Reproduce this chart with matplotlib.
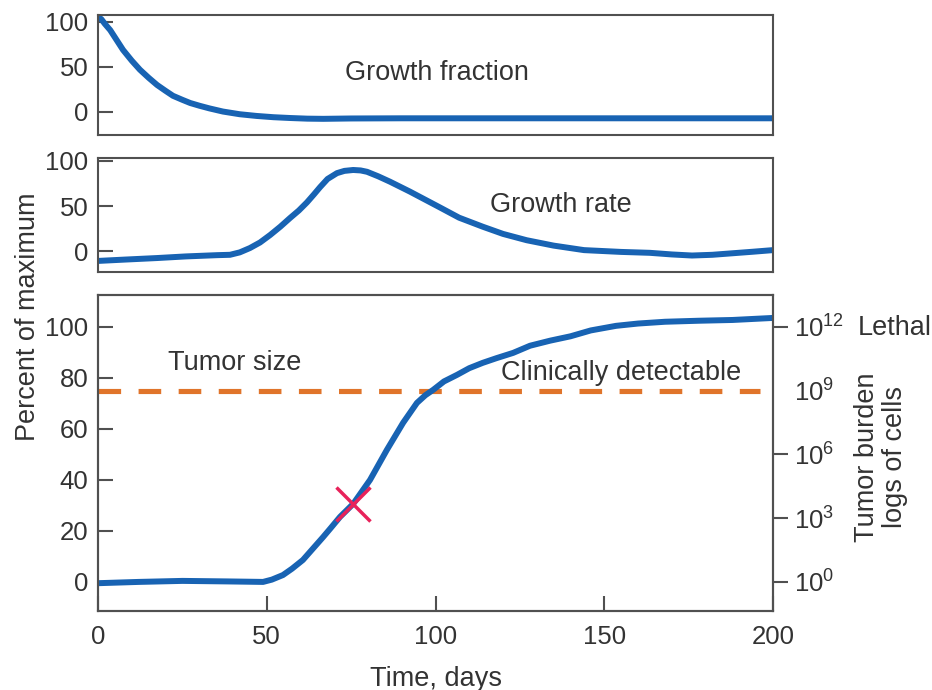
import matplotlib
matplotlib.use("Agg")
import matplotlib.pyplot as plt

plt.rcParams["font.family"] = ["Liberation Sans", "DejaVu Sans"]
plt.rcParams["mathtext.fontset"] = "custom"
plt.rcParams["mathtext.rm"] = "Liberation Sans"
plt.rcParams["mathtext.it"] = "Liberation Sans:italic"

# growth fraction (top panel)
frac_t = [0, 1, 2, 3.6, 5.5, 7.4, 10, 12.4, 15, 17.5, 20, 22.2, 25, 27.3, 30, 33, 37, 42, 47, 52, 57, 62, 66.7, 75, 90, 110, 140, 170, 200]
frac_v = [106, 103, 98, 91, 80, 69, 57, 47, 38, 30, 23.5, 18, 13.5, 10, 7, 4, 0.5, -2.5, -4.4, -5.8, -6.7, -7.4, -7.6, -7.2, -7, -7, -7, -7, -7]

# growth rate (middle panel)
rate_t = [0, 8, 17.5, 26, 35.3, 39.1, 42, 45, 48, 51, 54, 56.9, 59.5, 61.9, 64, 65.8, 68, 70.8, 73, 75.6, 77.8, 79.7, 83, 86.5, 92.4, 101, 107, 114, 120, 127, 135, 144, 155, 163.5, 170, 176, 182, 188, 194, 200]
rate_v = [-11, -9.5, -7.8, -6, -4.6, -4.2, -1.5, 3.3, 9.5, 17.8, 27, 36.7, 45, 54, 63, 71, 80, 86.5, 89, 90, 89.5, 88, 83, 77, 66, 49, 37, 27, 19, 12, 6, 1, -1, -2, -3.8, -5, -4.2, -2.5, -0.8, 1]

# tumor size (bottom panel)
size_t = [0, 12, 25, 38, 48.9, 51.5, 54.8, 57.5, 60.7, 63.5, 66.7, 69, 71.7, 75.6, 80.6, 85.6, 90.4, 94.5, 97, 99.3, 102.5, 106.4, 110, 114, 118, 123, 128, 134, 140, 146, 153.5, 160, 168, 178, 188, 200]
size_v = [-0.5, 0, 0.4, 0.2, 0, 0.9, 2.7, 5.2, 8.6, 12.8, 17.6, 21.2, 25.5, 30.6, 40, 51.8, 62.4, 70.2, 73.2, 75.3, 78.6, 81.2, 83.8, 85.9, 87.7, 89.8, 92.6, 94.6, 96.3, 98.6, 100.4, 101.3, 102, 102.4, 102.7, 103.5]

detect_level = 75
detect_end = 196
marker_t, marker_v = 75.6, 30.6

burden_pos = [0, 25, 50, 75, 100]
burden_labels = ["$10^{0}$", "$10^{3}$", "$10^{6}$", "$10^{9}$", "$10^{12}$"]
time_ticks = [0, 50, 100, 150, 200]

blue = "#1863B3"
orange = "#E0742A"
red = "#E8225A"
grey = "#505050"
txt = "#333333"
fs = 19.5
tfs = 18.5
lw_blue = 4.3

fig = plt.figure(figsize=(9.32, 6.9), dpi=100)
ax1 = fig.add_axes([0.1052, 0.8043, 0.7242, 0.1740])
ax2 = fig.add_axes([0.1052, 0.6058, 0.7242, 0.1652])
ax3 = fig.add_axes([0.1052, 0.1145, 0.7242, 0.4580])

for ax in (ax1, ax2, ax3):
    for sp in ax.spines.values():
        sp.set_color(grey)
        sp.set_linewidth(1.5)
    ax.set_xlim(0, 200)
    ax.tick_params(axis="y", direction="in", length=11, width=1.5, color=grey,
                   labelsize=tfs, labelcolor=txt, pad=7)

ax1.plot(frac_t, frac_v, color=blue, lw=lw_blue, solid_capstyle="round", solid_joinstyle="round")
ax1.set_ylim(-25.6, 107.8)
ax1.set_yticks([0, 50, 100])
ax1.set_xticks([])
ax1.text(100.4, 43, "Growth fraction", fontsize=fs, color=txt, ha="center", va="center")

ax2.plot(rate_t, rate_v, color=blue, lw=lw_blue, solid_capstyle="round", solid_joinstyle="round")
ax2.set_ylim(-23.3, 103.3)
ax2.set_yticks([0, 50, 100])
ax2.set_xticks([])
ax2.text(137, 51, "Growth rate", fontsize=fs, color=txt, ha="center", va="center")

ax3.plot([0, detect_end], [detect_level, detect_level], color=orange, lw=3.7,
         dashes=(4.4, 3.4), dash_capstyle="butt")
ax3.plot(size_t, size_v, color=blue, lw=lw_blue, solid_capstyle="round", solid_joinstyle="round")
ax3.plot([marker_t], [marker_v], marker="x", color=red, markersize=24, mew=2.5)
ax3.set_ylim(-11.4, 112.5)
ax3.set_yticks([0, 20, 40, 60, 80, 100])
ax3.set_xticks(time_ticks)
ax3.tick_params(axis="x", direction="in", length=11, width=1.5, color=grey,
                labelsize=tfs, labelcolor=txt, pad=10)
ax3.set_xlabel("Time, days", fontsize=fs, color=txt, labelpad=12)
ax3.text(40.6, 86, "Tumor size", fontsize=fs, color=txt, ha="center", va="center")
ax3.text(155, 82, "Clinically detectable", fontsize=fs, color=txt, ha="center", va="center")

axr = ax3.twinx()
axr.set_ylim(ax3.get_ylim())
axr.set_yticks(burden_pos)
axr.set_yticklabels(burden_labels)
axr.tick_params(axis="y", direction="out", length=11, width=1.5, color=grey,
                labelsize=tfs, labelcolor=txt, pad=4)
axr.yaxis.get_major_ticks()[3].tick2line.set_visible(False)
for sp in axr.spines.values():
    sp.set_color(grey)
    sp.set_linewidth(1.5)

fig.text(858 / 932, 1 - 328 / 690, "Lethal", fontsize=fs, color=txt, ha="left", va="center")
fig.text(881 / 932, 1 - 457 / 690, "Tumor burden\nlogs of cells", fontsize=fs, color=txt,
         ha="center", va="center", rotation=90, multialignment="center", linespacing=1.15)
fig.text(28 / 932, 1 - 317 / 690, "Percent of maximum", fontsize=fs, color=txt,
         ha="center", va="center", rotation=90)

fig.savefig("out.png", dpi=100)
plt.close(fig)
